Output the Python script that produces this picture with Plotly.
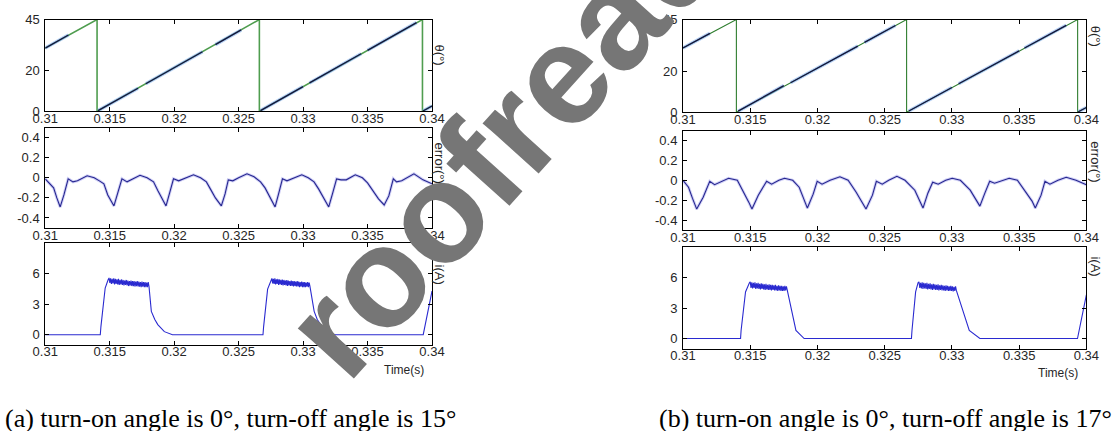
import numpy as np
import plotly.graph_objects as go

W, H = 1115, 431

# ---------------- tick labels ----------------
x_ticks = [0.31, 0.315, 0.32, 0.325, 0.33, 0.335, 0.34]
x_ticktext = ["0.31", "0.315", "0.32", "0.325", "0.33", "0.335", "0.34"]
theta_ticks = [0, 20, 45]
err_ticks = [-0.4, -0.2, 0, 0.2, 0.4]
err_ticktext = ["-0.4", "-0.2", "0", "0.2", "0.4"]
cur_ticks = [0, 3, 6]

# ---------------- panel (a) ----------------
theta_ref_t_a = [0.31, 0.31402, 0.31402, 0.32661, 0.32661, 0.33926, 0.33926, 0.34]
theta_ref_a = [31.0, 45, 0, 45, 0, 45, 0, 2.6]
theta_meas_t_a = [0.31, 0.3118, None, 0.3141, 0.3172, None, 0.3178, 0.3222, None, 0.3232, 0.3252, None,
                  0.3267, 0.3300, None, 0.3305, 0.3345, None, 0.3350, 0.3388, None, 0.3393, 0.34]
theta_meas_a = [31.0, 37.4, None, 0.3, 11.3, None, 13.5, 29.2, None, 32.7, 39.9, None,
                0.3, 12.1, None, 13.9, 28.2, None, 29.9, 43.5, None, 0.1, 2.6]

err_t_a = [0.31000, 0.31040, 0.31065, 0.31090, 0.31116, 0.31145, 0.31178, 0.31215, 0.31250, 0.31325,
           0.31380, 0.31420, 0.31455, 0.31485, 0.31505, 0.31533, 0.31565, 0.31595, 0.31635, 0.31735,
           0.31790, 0.31840, 0.31875, 0.31905, 0.31937, 0.31965, 0.31995, 0.32035, 0.32075, 0.32150,
           0.32205, 0.32250, 0.32285, 0.32320, 0.32366, 0.32395, 0.32420, 0.32455, 0.32500, 0.32565,
           0.32620, 0.32670, 0.32705, 0.32745, 0.32783, 0.32810, 0.32840, 0.32875, 0.32915, 0.32990,
           0.33040, 0.33085, 0.33120, 0.33160, 0.33199, 0.33230, 0.33260, 0.33295, 0.33335, 0.33405,
           0.33460, 0.33500, 0.33540, 0.33585, 0.33629, 0.33665, 0.33700, 0.33725, 0.33765, 0.33860,
           0.33930, 0.34000]
err_a = [-0.01, -0.06, -0.10, -0.20, -0.29, -0.17, -0.01, -0.04, -0.03, 0.02,
         0.00, -0.03, -0.06, -0.17, -0.22, -0.28, -0.14, -0.01, -0.04, 0.025,
         0.00, -0.04, -0.13, -0.21, -0.28, -0.15, -0.01, -0.03, -0.01, 0.03,
         0.00, -0.04, -0.12, -0.20, -0.28, -0.16, -0.02, -0.03, 0.00, 0.04,
         0.01, -0.04, -0.10, -0.19, -0.29, -0.16, -0.01, -0.03, -0.01, 0.03,
         0.00, -0.04, -0.11, -0.20, -0.29, -0.15, -0.01, -0.02, -0.02, 0.03,
         0.00, -0.05, -0.12, -0.21, -0.27, -0.18, -0.01, -0.04, -0.03, 0.04,
         -0.02, -0.06]

cur_on_t_a = [[0.31, 0.31427, 0.31432, 0.31465, 0.31487], [0.32689, 0.32694, 0.32725, 0.32750]]
cur_on_a = [[0, 0, 0.8, 4.6, 5.4], [0, 0.8, 4.5, 5.4]]
ripple_span_a = [[0.31495, 0.31805], [0.32758, 0.33053]]
ripple_hi_a = [[5.6, 5.55, 5.5, 5.55, 5.5, 5.45, 5.5, 5.4, 5.45, 5.4, 5.35, 5.4, 5.35, 5.3, 5.35, 5.3,
                5.3, 5.25, 5.3, 5.25, 5.2, 5.25, 5.2, 5.2, 5.15, 5.2],
               [5.55, 5.5, 5.55, 5.45, 5.5, 5.45, 5.4, 5.45, 5.4, 5.35, 5.4, 5.35, 5.3, 5.35, 5.3, 5.3,
                5.25, 5.3, 5.25, 5.2, 5.25, 5.2, 5.2, 5.15, 5.2, 5.15]]
ripple_lo_a = [[5.1, 5.0, 5.05, 4.95, 5.0, 4.95, 4.9, 4.95, 4.9, 4.85, 4.9, 4.85, 4.8, 4.85, 4.8, 4.8,
                4.75, 4.8, 4.75, 4.75, 4.7, 4.75, 4.7, 4.7, 4.7, 4.75],
               [5.05, 5.0, 4.95, 5.0, 4.9, 4.95, 4.9, 4.85, 4.9, 4.85, 4.8, 4.85, 4.8, 4.8, 4.75, 4.8,
                4.75, 4.75, 4.7, 4.75, 4.7, 4.7, 4.7, 4.75, 4.7, 4.8]]
cur_off_t_a = [[0.31823, 0.31850, 0.31873, 0.31924, 0.31987], [0.33086, 0.33110, 0.33136, 0.33190, 0.33250,
               0.33932, 0.34]]
cur_off_a = [[2.3, 1.5, 1.0, 0.3, 0], [2.3, 1.5, 1.0, 0.2, 0, 0, 4.3]]

# ---------------- panel (b) ----------------
theta_ref_t_b = [0.31, 0.31397, 0.31397, 0.32663, 0.32663, 0.33935, 0.33935, 0.34]
theta_ref_b = [31.2, 45, 0, 45, 0, 45, 0, 2.3]
theta_meas_t_b = [0.31, 0.3120, None, 0.3141, 0.3175, None, 0.3180, 0.3230, None, 0.3235, 0.3258, None,
                  0.3268, 0.3300, None, 0.3305, 0.3350, None, 0.3354, 0.3385, None, 0.3394, 0.34]
theta_meas_b = [31.2, 38.3, None, 0.5, 12.9, None, 14.3, 32.1, None, 33.9, 42.1, None,
                0.6, 12.0, None, 13.8, 29.8, None, 31.2, 42.2, None, 0.2, 2.3]

err_t_b = [0.31000, 0.31041, 0.31070, 0.31102, 0.31150, 0.31199, 0.31235, 0.31283, 0.31339, 0.31404,
           0.31453, 0.31489, 0.31513, 0.31560, 0.31622, 0.31659, 0.31713, 0.31755, 0.31816, 0.31864,
           0.31893, 0.31925, 0.31968, 0.31998, 0.32034, 0.32094, 0.32167, 0.32228, 0.32288, 0.32332,
           0.32361, 0.32409, 0.32438, 0.32482, 0.32530, 0.32591, 0.32651, 0.32724, 0.32760, 0.32785,
           0.32821, 0.32857, 0.32898, 0.32954, 0.33002, 0.33063, 0.33136, 0.33179, 0.33208, 0.33245,
           0.33281, 0.33317, 0.33378, 0.33426, 0.33487, 0.33547, 0.33596, 0.33620, 0.33663, 0.33692,
           0.33729, 0.33789, 0.33850, 0.33923, 0.34000]
err_b = [0.00, -0.07, -0.18, -0.29, -0.17, -0.01, -0.045, -0.015, 0.02, 0.00,
         -0.12, -0.22, -0.29, -0.15, -0.01, -0.04, 0.00, 0.02, 0.00, -0.07,
         -0.17, -0.28, -0.14, -0.01, -0.04, 0.00, 0.035, 0.00, -0.12, -0.22,
         -0.29, -0.15, -0.01, -0.04, 0.00, 0.04, 0.00, -0.10, -0.20, -0.28,
         -0.13, -0.02, -0.04, 0.00, 0.02, 0.00, -0.10, -0.20, -0.26, -0.13,
         -0.01, -0.03, 0.00, 0.02, 0.00, -0.12, -0.21, -0.28, -0.15, -0.01,
         -0.04, 0.00, 0.03, 0.00, -0.045]

cur_on_t_b = [[0.31, 0.31428, 0.31432, 0.31465, 0.31494], [0.32699, 0.32703, 0.32730, 0.32748]]
cur_on_b = [[0, 0, 0.8, 4.6, 5.5], [0, 0.8, 4.6, 5.5]]
ripple_span_b = [[0.31500, 0.31775], [0.32755, 0.33033]]
ripple_hi_b = [[5.6, 5.55, 5.5, 5.55, 5.45, 5.5, 5.4, 5.45, 5.4, 5.35, 5.4, 5.3, 5.35, 5.3, 5.3,
                5.25, 5.3, 5.2, 5.25, 5.2, 5.2, 5.15, 5.2, 5.15],
               [5.6, 5.5, 5.55, 5.5, 5.45, 5.5, 5.4, 5.45, 5.35, 5.4, 5.35, 5.3, 5.35, 5.25, 5.3,
                5.25, 5.2, 5.25, 5.2, 5.15, 5.2, 5.15, 5.1, 5.15]]
ripple_lo_b = [[5.0, 4.95, 5.0, 4.9, 4.95, 4.9, 4.85, 4.9, 4.85, 4.8, 4.85, 4.8, 4.8, 4.75, 4.8,
                4.75, 4.75, 4.7, 4.75, 4.7, 4.7, 4.7, 4.75, 4.8],
               [5.0, 4.95, 4.9, 4.95, 4.9, 4.85, 4.9, 4.85, 4.8, 4.85, 4.8, 4.8, 4.75, 4.8, 4.75,
                4.75, 4.7, 4.75, 4.7, 4.7, 4.7, 4.65, 4.7, 4.75]]
cur_off_t_b = [[0.31840, 0.31901], [0.33129, 0.33208, 0.33934, 0.34]]
cur_off_b = [[0.8, 0], [0.8, 0, 0, 4.3]]


def build_current(on_t, on_v, spans, his, los, off_t, off_v):
    t, v = [], []
    for k in range(len(on_t)):
        t += list(on_t[k]); v += list(on_v[k])
        hi, lo = his[k], los[k]
        seq = []
        for a, b in zip(hi, lo):
            seq += [a, b]
        t += list(np.linspace(spans[k][0], spans[k][1], len(seq))); v += seq
        t += list(off_t[k]); v += list(off_v[k])
    return t, v


def xd(x0, x1):
    return [x0 / W, x1 / W]


def yd(y0, y1):
    return [1 - y1 / H, 1 - y0 / H]


TICK_FONT = dict(family="Liberation Sans Narrow, Arial Narrow, Liberation Sans, Arial", size=13, color="#262626")

fig = go.Figure()

panels = [
    dict(x=(33, 429), rows=[(13, 108), (125, 229), (245, 350)],
         tr=(theta_ref_t_a, theta_ref_a), tm=(theta_meas_t_a, theta_meas_a), er=(err_t_a, err_a),
         cur=build_current(cur_on_t_a, cur_on_a, ripple_span_a, ripple_hi_a, ripple_lo_a, cur_off_t_a, cur_off_a),
         green="#4f9d4f", greenw=1.6, lab_x=437, lab_y=[50, 162, 277], time=(400, 376)),
    dict(x=(686, 1099), rows=[(13, 109), (128, 231), (249, 354)],
         tr=(theta_ref_t_b, theta_ref_b), tm=(theta_meas_t_b, theta_meas_b), er=(err_t_b, err_b),
         cur=build_current(cur_on_t_b, cur_on_b, ripple_span_b, ripple_hi_b, ripple_lo_b, cur_off_t_b, cur_off_b),
         green="#2e7d2e", greenw=1.1, lab_x=1108, lab_y=[30, 160, 269], time=(1070, 379)),
]

layout = dict(width=W, height=H, margin=dict(l=0, r=0, t=0, b=0), paper_bgcolor="white",
              plot_bgcolor="white", showlegend=False)
annotations = []
n = 0
for p in panels:
    yranges = [[0, 45], [-0.5, 0.5], [-1, 9]]
    yticks = [(theta_ticks, [str(v) for v in theta_ticks]), (err_ticks, err_ticktext),
              (cur_ticks, [str(v) for v in cur_ticks])]
    for r in range(3):
        n += 1
        xa = "x" if n == 1 else f"x{n}"
        ya = "y" if n == 1 else f"y{n}"
        xkey = "xaxis" if n == 1 else f"xaxis{n}"
        ykey = "yaxis" if n == 1 else f"yaxis{n}"
        layout[xkey] = dict(domain=xd(*p["x"]), anchor=ya, range=[0.31, 0.34], tickvals=x_ticks,
                            ticktext=x_ticktext, ticks="inside", ticklen=4, tickcolor="black",
                            showline=True, linecolor="black", linewidth=1, mirror="ticks",
                            showgrid=False, zeroline=False, tickfont=TICK_FONT,
                            ticklabelstandoff=-5)
        layout[ykey] = dict(domain=yd(*p["rows"][r]), anchor=xa, range=yranges[r],
                            tickvals=yticks[r][0], ticktext=yticks[r][1], ticks="inside", ticklen=4,
                            tickcolor="black", showline=True, linecolor="black", linewidth=1,
                            mirror="ticks", showgrid=False, zeroline=False, tickfont=TICK_FONT,
                            ticklabelstandoff=2)
        if r == 0:
            fig.add_trace(go.Scatter(x=p["tr"][0], y=p["tr"][1], mode="lines",
                                     line=dict(color=p["green"], width=p["greenw"]), xaxis=xa, yaxis=ya))
            fig.add_trace(go.Scatter(x=p["tm"][0], y=p["tm"][1], mode="lines",
                                     line=dict(color="rgba(120,170,235,0.55)", width=3.5),
                                     xaxis=xa, yaxis=ya))
            fig.add_trace(go.Scatter(x=p["tm"][0], y=p["tm"][1], mode="lines",
                                     line=dict(color="#14143c", width=1.3), xaxis=xa, yaxis=ya))
        elif r == 1:
            fig.add_trace(go.Scatter(x=p["er"][0], y=p["er"][1], mode="lines",
                                     line=dict(color="rgba(150,150,235,0.45)", width=3),
                                     xaxis=xa, yaxis=ya))
            fig.add_trace(go.Scatter(x=p["er"][0], y=p["er"][1], mode="lines",
                                     line=dict(color="#26268f", width=1.1), xaxis=xa, yaxis=ya))
        else:
            fig.add_trace(go.Scatter(x=p["cur"][0], y=p["cur"][1], mode="lines",
                                     line=dict(color="#2a2ad0", width=1.1), xaxis=xa, yaxis=ya))
    for text, yy in zip(["θ(°)", "error(°)", "i(A)"], p["lab_y"]):
        annotations.append(dict(text=text, x=p["lab_x"] / W, y=1 - yy / H, xref="paper", yref="paper",
                                showarrow=False, textangle=90, xanchor="center", yanchor="middle",
                                font=TICK_FONT))
    annotations.append(dict(text="Time(s)", x=p["time"][0] / W, y=1 - p["time"][1] / H, xref="paper",
                            yref="paper", showarrow=False, xanchor="center", yanchor="middle",
                            font=dict(family=TICK_FONT["family"], size=12, color="#262626")))

CAP_FONT = dict(family="Liberation Serif, Times New Roman, serif", size=26, color="black")
annotations.append(dict(text="(a) turn-on angle is 0°, turn-off angle is 15°", x=-10 / W, y=1 - 426 / H,
                        xref="paper", yref="paper", showarrow=False, xanchor="left", yanchor="middle",
                        font=CAP_FONT))
annotations.append(dict(text="(b) turn-on angle is 0°, turn-off angle is 17°", x=659 / W, y=1 - 426 / H,
                        xref="paper", yref="paper", showarrow=False, xanchor="left", yanchor="middle",
                        font=CAP_FONT))
# watermark (its first letter is clipped away in the reference)
annotations.append(dict(text="<b>roofread</b>", x=502 / W, y=1 - 136 / H, xref="paper", yref="paper",
                        showarrow=False, textangle=-48, xanchor="center", yanchor="middle",
                        font=dict(family="Liberation Sans, Arial, sans-serif", size=142,
                                  color="rgb(118,118,118)")))
layout["annotations"] = annotations
fig.update_layout(**layout)
fig.write_html("out.html")
